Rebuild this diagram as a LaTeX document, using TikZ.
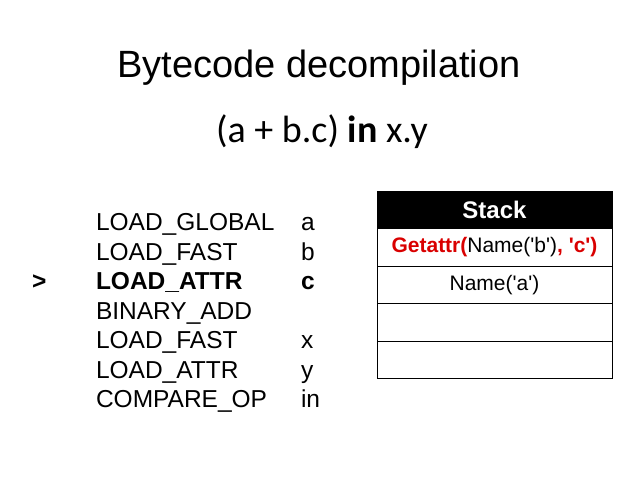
\documentclass[tikz,border=0pt]{standalone}
\usepackage{fontspec}
\setmainfont{Liberation Sans}
\newfontfamily\calibri{Carlito}
\usetikzlibrary{positioning}
\newcommand{\sq}{\textquotesingle}
\tikzset{
    base/.style={inner sep=0pt, outer sep=0pt},
    title/.style={base, anchor=base, font=\fontsize{38}{42}\selectfont},
    expr/.style={base, anchor=base, font=\calibri\fontsize{38}{42}\selectfont},
    instr/.style={base, anchor=base west, font=\fontsize{24.5}{27}\selectfont},
    slot/.style={base, draw, line width=1pt, minimum width=235pt, minimum height=37.5pt, font=\fontsize{21}{23}\selectfont},
    head/.style={slot, fill=black, text=white, font=\bfseries\fontsize{24}{26}\selectfont}
}

\begin{document}
\begin{tikzpicture}[x=1pt, y=-1pt]
    \useasboundingbox (0,0) rectangle (638,479);

    \node (title) [title] at (319,77) {Bytecode decompilation};
    \node (expr) [expr] at (322,142) {(a + b.c) \textbf{in} x.y};

    % bytecode listing
    \node (op1) [instr] at (96,230.7) {LOAD\_GLOBAL};
    \node (op2) [instr] at (96,260.2) {LOAD\_FAST};
    \node (op3) [instr] at (96,289.7) {\bfseries LOAD\_ATTR};
    \node (op4) [instr] at (96,319.2) {BINARY\_ADD};
    \node (op5) [instr] at (96,348.7) {LOAD\_FAST};
    \node (op6) [instr] at (96,378.2) {LOAD\_ATTR};
    \node (op7) [instr] at (96,407.7) {COMPARE\_OP};

    \node (arg1) [instr] at (301,230.7) {a};
    \node (arg2) [instr] at (301,260.2) {b};
    \node (arg3) [instr] at (301,289.7) {\bfseries c};
    \node (arg5) [instr] at (301,348.7) {x};
    \node (arg6) [instr] at (301,378.2) {y};
    \node (arg7) [instr] at (301,407.7) {in};

    \node (pointer) [instr] at (32,289.7) {\bfseries >};

    % stack
    \node (stack) [head, anchor=north west] at (377,191) {Stack};
    \node (top) [slot, below=0pt of stack] {\textcolor{red!85!black}{\bfseries Getattr(}Name(\sq b\sq)\textcolor{red!85!black}{\bfseries , \sq c\sq)}};
    \node (second) [slot, below=0pt of top] {Name(\sq a\sq)};
    \node (third) [slot, below=0pt of second] {};
    \node (fourth) [slot, below=0pt of third] {};
\end{tikzpicture}
\end{document}
